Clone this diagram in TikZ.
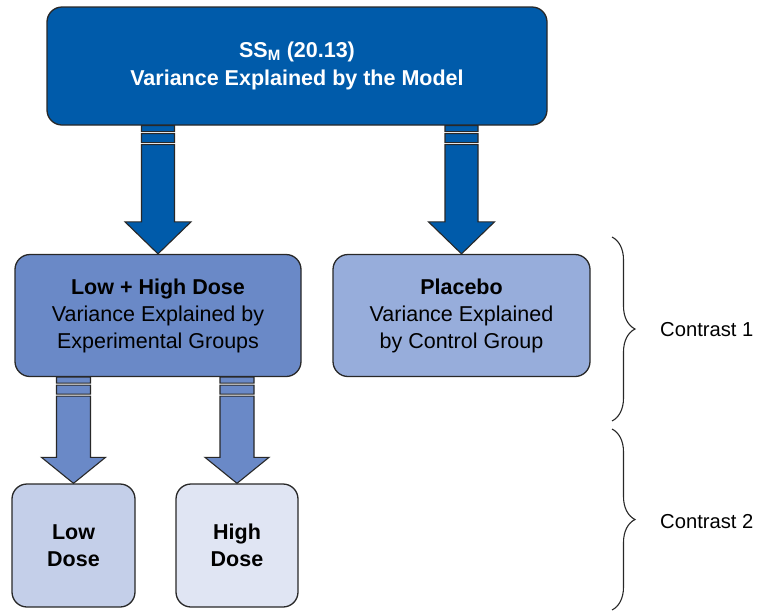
\documentclass[tikz,border=0pt]{standalone}
\usepackage{fontspec}
\setmainfont{Liberation Sans}
\usetikzlibrary{calc,decorations.pathreplacing}
\definecolor{cTop}{RGB}{0,91,170}
\definecolor{cLH}{RGB}{106,137,199}
\definecolor{cPl}{RGB}{151,173,219}
\definecolor{cLD}{RGB}{196,207,233}
\definecolor{cHD}{RGB}{224,229,243}
\definecolor{cEdge}{RGB}{40,40,40}
\tikzset{
  box/.style={draw=cEdge, line width=1.3pt, rounded corners=15pt, align=center,
    inner sep=0pt, font=\fontsize{21.5}{27}\selectfont},
  arrowline/.style={draw=cEdge, line width=1.1pt, line join=miter},
  bracestyle/.style={draw=cEdge, line width=1.1pt,
    decorate, decoration={brace, amplitude=23pt}},
  lbl/.style={anchor=west, inner sep=0pt, font=\fontsize{20.2}{24}\selectfont}
}
% #1 start, #2 end, #3 colour, #4 shaft half width, #5 head half width, #6 head length
\newcommand\blockarrow[6]{%
  \path[arrowline, fill=#3] let \p1=(#1), \p2=(#2) in
    (\x1-#4,\y1) rectangle (\x1+#4,\y1-6pt)
    (\x1-#4,\y1-8pt) rectangle (\x1+#4,\y1-17pt)
    (\x1-#4,\y1-19pt) -- (\x1-#4,\y2+#6) -- (\x1-#5,\y2+#6) -- (\x2,\y2)
    -- (\x1+#5,\y2+#6) -- (\x1+#4,\y2+#6) -- (\x1+#4,\y1-19pt) -- cycle;}
\begin{document}
\begin{tikzpicture}[x=1pt,y=-1pt]
\useasboundingbox (0,0) rectangle (758,614);
\node[box, fill=cTop, text=white, minimum width=500pt, minimum height=118pt,
  font=\bfseries\fontsize{21.5}{28}\selectfont] (top) at (297,66)
  {SS\textsubscript{M} (20.13)\\Variance Explained by the Model};
\node[box, fill=cLH, minimum width=286pt, minimum height=122pt] (lh) at (158,315.5)
  {\textbf{Low + High Dose}\\Variance Explained by\\Experimental Groups};
\node[box, fill=cPl, minimum width=257pt, minimum height=122pt] (pl) at (461.5,315.5)
  {\textbf{Placebo}\\Variance Explained\\by Control Group};
\node[box, fill=cLD, minimum width=123pt, minimum height=123pt, font=\bfseries\fontsize{21.5}{27}\selectfont] (ld) at (73.5,545.5)
  {Low\\Dose};
\node[box, fill=cHD, minimum width=122pt, minimum height=123pt, font=\bfseries\fontsize{21.5}{27}\selectfont] (hd) at (237,545.5)
  {High\\Dose};
\blockarrow{top.south -| lh.north}{lh.north}{cTop}{16.5pt}{33pt}{32pt}
\blockarrow{top.south -| pl.north}{pl.north}{cTop}{16.5pt}{33pt}{32pt}
\blockarrow{lh.south -| ld.north}{ld.north}{cLH}{17pt}{32pt}{26pt}
\blockarrow{lh.south -| hd.north}{hd.north}{cLH}{17pt}{32pt}{26pt}
\coordinate (b1a) at (612,237);
\coordinate (b1b) at (612,421);
\coordinate (b2a) at (612,429);
\coordinate (b2b) at (612,610);
\draw[bracestyle] (b1a) -- (b1b);
\draw[bracestyle] (b2a) -- (b2b);
\node[lbl] (c1) at (660,330) {Contrast 1};
\node[lbl] (c2) at (660,522) {Contrast 2};
\end{tikzpicture}
\end{document}
